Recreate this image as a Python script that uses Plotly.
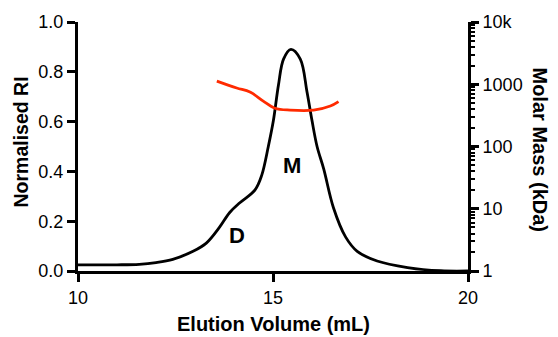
import plotly.graph_objects as go

# Refractive-index trace (normalised) versus elution volume
ri_volume = [10.0, 11.0, 11.57, 12.0, 12.43, 12.95, 13.29, 13.63, 13.89, 14.15, 14.54,
             14.71, 14.88, 15.01, 15.14, 15.27, 15.46, 15.70, 15.87, 16.0, 16.13, 16.30,
             16.55, 16.86, 17.16, 17.67, 18.45, 19.3, 20.0]
ri_signal = [0.025, 0.025, 0.027, 0.034, 0.047, 0.079, 0.112, 0.176, 0.235, 0.274, 0.326,
             0.384, 0.50, 0.604, 0.747, 0.851, 0.89, 0.851, 0.721, 0.604, 0.50, 0.41,
             0.254, 0.137, 0.079, 0.04, 0.014, 0.001, 0.0]

# Molar mass across the peak (kDa, log scale)
mm_volume = [13.56, 14.07, 14.41, 14.75, 15.05, 15.44, 16.04, 16.47, 16.68]
mm_kda = [1125, 870, 750, 537, 412, 384, 384, 447, 527]

# Peak annotations
peak_labels = ["D", "M"]
peak_x = [14.07, 15.49]
peak_y = [0.142, 0.424]

FONT = "Arial"

fig = go.Figure()
fig.add_trace(go.Scatter(x=ri_volume, y=ri_signal, mode="lines",
                         line=dict(color="black", width=2.8, shape="spline", smoothing=1.0),
                         showlegend=False))
fig.add_trace(go.Scatter(x=mm_volume, y=mm_kda, mode="lines", yaxis="y2",
                         line=dict(color="#ff2a00", width=2.8, shape="spline", smoothing=1.0),
                         showlegend=False))

for t, x, y in zip(peak_labels, peak_x, peak_y):
    fig.add_annotation(x=x, y=y, text="<b>" + t + "</b>", showarrow=False,
                       font=dict(family=FONT, size=22, color="black"))

# Axis titles placed in the margins
title_font = dict(family=FONT, size=20, color="black")
fig.add_annotation(xref="paper", yref="paper", x=0.5, y=0, yshift=-53, text="<b>Elution Volume (mL)</b>",
                   showarrow=False, xanchor="center", yanchor="middle", font=title_font)
fig.add_annotation(xref="paper", yref="paper", x=0, y=0.516, xshift=-57, text="<b>Normalised RI</b>",
                   textangle=-90, showarrow=False, xanchor="center", yanchor="middle",
                   font=dict(family=FONT, size=19.5, color="black"))
fig.add_annotation(xref="paper", yref="paper", x=1, y=0.488, xshift=72, text="<b>Molar Mass (kDa)</b>",
                   textangle=90, showarrow=False, xanchor="center", yanchor="middle", font=title_font)

tick_font = dict(family=FONT, size=18, color="black")
axis_style = dict(ticks="outside", ticklen=8, tickwidth=3, tickcolor="black",
                  showline=True, linecolor="black", linewidth=3, showgrid=False,
                  zerolinecolor="black", tickfont=tick_font)

fig.update_layout(
    template="simple_white",
    width=558, height=337,
    margin=dict(l=78, r=90, t=15, b=66),
    plot_bgcolor="white", paper_bgcolor="white",
    xaxis=dict(range=[10, 20], tick0=10, dtick=5, **axis_style),
    yaxis=dict(range=[0, 1], tick0=0, dtick=0.2, tickformat=".1f", **axis_style),
    yaxis2=dict(type="log", range=[0, 4], dtick=1, overlaying="y", side="right",
                minor=dict(ticks="outside", ticklen=4, tickwidth=2, tickcolor="black"),
                **axis_style),
)

fig.write_html("out.html")
